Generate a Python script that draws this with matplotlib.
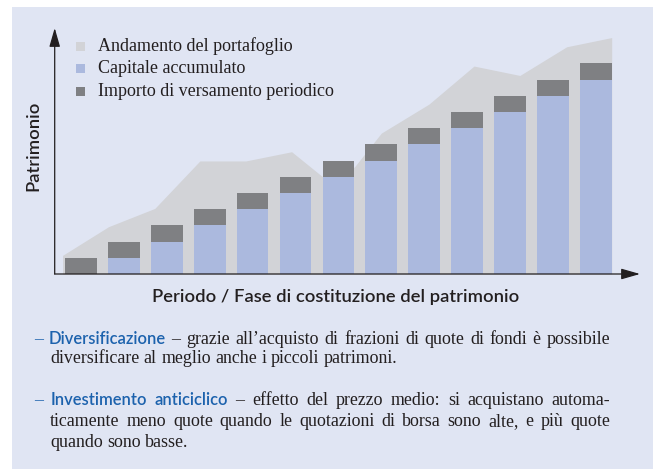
"""Piano di accumulo: patrimonio per periodo (ricostruzione del grafico)."""

import matplotlib

matplotlib.use("Agg")
import matplotlib.pyplot as plt
from matplotlib.patches import Rectangle

W, H = 653, 470

# ---------------------------------------------------------------------------
# Data
# ---------------------------------------------------------------------------
periods = list(range(13))
capital = [0, 1, 2, 3, 4, 5, 6, 7, 8, 9, 10, 11, 12]
deposit = [1, 1, 1, 1, 1, 1, 1, 1, 1, 1, 1, 1, 1]

portfolio_x = [-0.43, 0.64, 1.72, 2.77, 3.84, 4.91, 5.62, 6.37, 7.0,
               8.11, 9.16, 10.23, 11.32, 12.37]
portfolio_y = [1.15, 2.92, 4.05, 6.98, 6.98, 7.55, 6.03, 6.6, 8.7,
               10.49, 12.84, 12.26, 14.03, 14.6]

legend_labels = [
    "Andamento del portafoglio",
    "Capitale accumulato",
    "Importo di versamento periodico",
]

PANEL_BG = "#e0e5f3"
C_PORT = "#d2d3d7"
C_CAP = "#abb9de"
C_DEP = "#7f8083"
C_TEXT = "#231f20"
C_BLUE = "#1c62ad"

SERIF = "Liberation Serif"
SANS = "Lato"


def px(x, y):
    """Pixel position (from top-left) to figure fraction."""
    return x / W, 1 - y / H


fig = plt.figure(figsize=(W / 100, H / 100), dpi=100)
renderer = fig.canvas.get_renderer()


def fit_size(s, props, target):
    """Font size giving the string a width of `target` pixels."""
    t = fig.text(0, 0, s, fontsize=10, **props)
    w = t.get_window_extent(renderer).width
    t.remove()
    return 10 * target / w


fig.patches.append(Rectangle(px(12, 469), 1, 462 / H, transform=fig.transFigure,
                             facecolor=PANEL_BG, edgecolor="none", zorder=-10))

ax_l, ax_r, ax_t, ax_b = 54.7, 640, 28, 274
ax = fig.add_axes([ax_l / W, 1 - ax_b / H, (ax_r - ax_l) / W, (ax_b - ax_t) / H])
ax.set_facecolor("none")
ax.set_xlim(-0.613, 13.03)
ax.set_ylim(0, 15.19)
for s in ax.spines.values():
    s.set_visible(False)
ax.set_xticks([])
ax.set_yticks([])

ax.fill_between(portfolio_x, portfolio_y, 0, color=C_PORT, linewidth=0, zorder=1)
ax.bar(periods, capital, width=0.74, color=C_CAP, linewidth=0, zorder=2)
ax.bar(periods, deposit, width=0.74, bottom=capital, color=C_DEP, linewidth=0, zorder=2)

arrow = dict(arrowstyle="-|>,head_length=1.15,head_width=0.33",
             color=C_TEXT, lw=0.9, mutation_scale=10, shrinkA=0, shrinkB=0)
ax.annotate("", xy=(1, 0), xytext=(0, 0), xycoords="axes fraction", arrowprops=arrow)
ax.annotate("", xy=(0, 1), xytext=(0, 0), xycoords="axes fraction", arrowprops=arrow)

# legend (manual, as in the original layout)
for i, (label, col) in enumerate(zip(legend_labels, [C_PORT, C_CAP, C_DEP])):
    yc = 46 + i * 22.5
    fig.patches.append(Rectangle(px(76, yc + 4.5), 9 / W, 9 / H, transform=fig.transFigure,
                                 facecolor=col, edgecolor="none"))
    fig.text(*px(98, yc), label, family=SERIF, fontsize=13, color=C_TEXT,
             va="center", ha="left")

axis_font = dict(family=SANS, fontweight="semibold", color=C_TEXT)
xlabel = "Periodo / Fase di costituzione del patrimonio"
axis_size = fit_size(xlabel, axis_font, 366)
fig.text(*px(33, 146), "Patrimonio", fontsize=axis_size, rotation=90,
         ha="center", va="center", **axis_font)
fig.text(*px(336, 297), xlabel, fontsize=axis_size, ha="center", va="center", **axis_font)

# ---------------------------------------------------------------------------
# Body text (justified lines)
# ---------------------------------------------------------------------------
body = dict(family=SERIF, fontsize=12.9, color=C_TEXT)
head = dict(family=SANS, fontweight="semibold", color=C_BLUE)
head["fontsize"] = fit_size("Diversificazione", head, 117)


def draw_line(words, x0, y, x1=None):
    texts = [fig.text(*px(x0, y), w, va="baseline", ha="left", **p) for w, p in words]
    widths = [t.get_window_extent(renderer).width for t in texts]
    if x1 is None or len(texts) < 2:
        gap = 0.25 * body["fontsize"] * 100 / 72
    else:
        gap = (x1 - x0 - sum(widths)) / (len(texts) - 1)
    x = x0
    for t, w in zip(texts, widths):
        t.set_position(px(x, y))
        x += w + gap


def words(s, p=body):
    return [(w, p) for w in s.split()]


blue_dash = dict(body, color=C_BLUE)
draw_line([("–", blue_dash)] + words("Diversificazione", head)
          + words("– grazie all’acquisto di frazioni di quote di fondi è possibile"),
          34, 344, 610)
draw_line(words("diversificare al meglio anche i piccoli patrimoni."), 50, 363)
draw_line([("–", blue_dash)] + words("Investimento anticiclico", head)
          + words("– effetto del prezzo medio: si acquistano automa-"),
          34, 405, 610)
draw_line(words("ticamente meno quote quando le quotazioni di borsa sono alte, e più quote"),
          50, 426, 610)
draw_line(words("quando sono basse."), 50, 447)

fig.savefig("out.png", dpi=100)
